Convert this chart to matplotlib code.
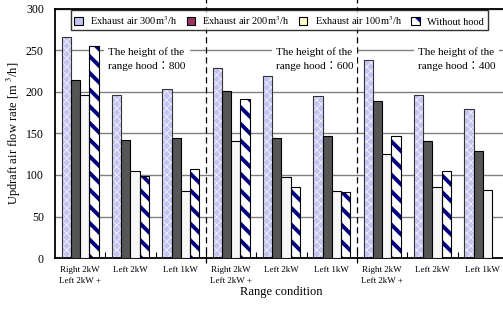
import numpy as np
import matplotlib.pyplot as plt
from matplotlib.patches import Patch

# --- DATA ---
CATEGORIES = ["Right 2kW\nLeft 2kW +", "Left 2kW", "Left 1kW",
              "Right 2kW\nLeft 2kW +", "Left 2kW", "Left 1kW",
              "Right 2kW\nLeft 2kW +", "Left 2kW", "Left 1kW"]
EXHAUST_300 = [266, 196, 203, 229, 219, 195, 239, 196, 180]
EXHAUST_200 = [214, 142, 144, 201, 145, 147, 189, 141, 129]
EXHAUST_100 = [196, 105, 81, 141, 98, 81, 125, 85, 82]
NO_HOOD = [255, 99, 107, 191, 85, 79, 147, 105, np.nan]
HOOD_HEIGHTS = ["800", "600", "400"]
SERIES_LABELS = ["Exhaust air 300m$^3$/h", "Exhaust air 200m$^3$/h",
                 "Exhaust air 100m$^3$/h", "Without hood"]

plt.rcParams['font.family'] = ['Liberation Serif', 'Noto Sans CJK JP']
plt.rcParams['mathtext.fontset'] = 'stix'

LAV = '#c4c4f2'
NAVY = '#000080'

fig = plt.figure(figsize=(5.03, 3.09), dpi=100)
ax = fig.add_axes([0.1093, 0.165, 0.9006, 0.806])

x = np.arange(len(CATEGORIES))
w = 0.185
offs = [-1.5 * w, -0.5 * w, 0.5 * w, 1.5 * w]

# 300 m3/h: lavender cross pattern
plt.rcParams['hatch.linewidth'] = 0.6
ax.bar(x + offs[0], EXHAUST_300, w, color=LAV, edgecolor='#f4f4ff',
       hatch='xxxx', linewidth=0, zorder=2)
ax.bar(x + offs[0], EXHAUST_300, w, fill=False, edgecolor='#333333',
       linewidth=0.8, zorder=3)
ax.bar(x + offs[1], EXHAUST_200, w, color='#555555', edgecolor='black',
       linewidth=0.8, zorder=3)
ax.bar(x + offs[2], EXHAUST_100, w, color='#f7f7f7', edgecolor='black',
       linewidth=0.8, zorder=3)
plt.rcParams['hatch.linewidth'] = 2.8
ax.bar(x + offs[3], NO_HOOD, w, color='white', edgecolor=NAVY,
       hatch='\\\\', linewidth=0, zorder=2)
ax.bar(x + offs[3], NO_HOOD, w, fill=False, edgecolor='black',
       linewidth=0.8, zorder=3)

ax.set_xlim(-0.5, 8.5)
ax.set_ylim(0, 300)
ax.set_yticks(np.arange(0, 301, 50))
ax.yaxis.grid(True, color='#808080', linewidth=1.0, zorder=0)
ax.set_axisbelow(True)
ax.tick_params(axis='y', labelsize=8.5, direction='in', length=0, pad=8)

ax.set_xticks(x)
ax.set_xticklabels(CATEGORIES, fontsize=6.5, linespacing=1.4)
ax.set_xticks(np.arange(0.5, 8.5, 1), minor=True)
ax.tick_params(axis='x', which='major', length=0, pad=6)
ax.tick_params(axis='x', which='minor', direction='in', length=4, width=0.8)

for s in ax.spines.values():
    s.set_linewidth(1.3)

ax.set_xlabel("Range condition", fontsize=9, labelpad=1)
ax.set_ylabel("Updraft air flow rate [m $^3$/h]", fontsize=9, labelpad=2)

# section dividers
for xd in [2.5, 5.5]:
    ax.plot([xd, xd], [-6, 312], color='black', linestyle=(0, (5, 3)),
            linewidth=0.9, clip_on=False, zorder=4)

# hood height notes
for xt, h in zip([0.56, 3.89, 6.71], HOOD_HEIGHTS):
    ax.text(xt, 240, "The height of the\nrange hood：" + h, fontsize=8,
            ha='left', va='center', linespacing=1.5, zorder=5,
            bbox=dict(boxstyle='square,pad=0.35', facecolor='white',
                      edgecolor='none'))

# legend (colors as shown in the original legend)
outline = dict(fill=False, edgecolor='black', linewidth=0.8)
handles = [
    Patch(facecolor=LAV, edgecolor='black', linewidth=0.8),
    Patch(facecolor='#993366', edgecolor='black', linewidth=0.8),
    Patch(facecolor='#ffffcc', edgecolor='black', linewidth=0.8),
    (Patch(facecolor='white', edgecolor=NAVY, hatch='\\\\', linewidth=0),
     Patch(**outline)),
]
leg = ax.legend(handles, SERIES_LABELS, loc='upper left',
                bbox_to_anchor=(0.035, 0.995), ncol=4, fontsize=7.5,
                frameon=True, fancybox=False, edgecolor='black',
                handlelength=0.8, handleheight=0.8, handletextpad=0.7,
                columnspacing=0.9, borderpad=0.35, borderaxespad=0)
leg.get_frame().set_linewidth(1.0)
leg.set_zorder(6)

fig.savefig('out.png', dpi=100)
